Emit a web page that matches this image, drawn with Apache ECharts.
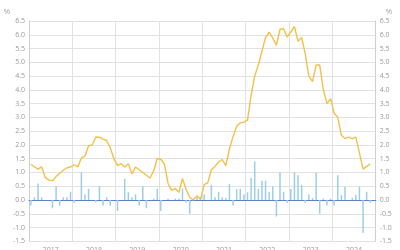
<!DOCTYPE html>
<html>
<head>
<meta charset="utf-8">
<script src="https://cdn.jsdelivr.net/npm/echarts@6/dist/echarts.min.js"></script>
<style>html,body{margin:0;padding:0;background:#fff;}#c{width:400px;height:250px;}</style>
</head>
<body>
<div id="c"></div>
<script>
var years = ['2017','2018','2019','2020','2021','2022','2023','2024'];
var yTicks = {min: -1.5, max: 6.5, step: 0.5};
var annualRate = [
  1.3, 1.2, 1.12, 1.2, 0.82, 0.72, 0.7, 0.85, 0.97, 1.08, 1.17, 1.2,
  1.28, 1.2, 1.52, 1.6, 1.97, 2.0, 2.29, 2.28, 2.21, 2.16, 1.9, 1.5,
  1.25, 1.32, 1.2, 1.32, 0.95, 1.2, 1.1, 1.0, 0.9, 0.8, 1.05, 1.5,
  1.48, 1.3, 0.6, 0.35, 0.42, 0.28, 0.78, 0.38, 0.1, 0.0, 0.15, 0.02,
  0.56, 0.62, 1.1, 1.22, 1.38, 1.47, 1.25, 1.85, 2.3, 2.68, 2.8, 2.83,
  2.9, 3.8, 4.5, 4.9, 5.4, 5.9, 6.1, 5.88, 5.62, 6.2, 6.22, 5.92,
  6.1, 6.3, 5.76, 5.9, 5.3, 4.5, 4.3, 4.9, 4.9, 4.0, 3.5, 3.68,
  3.15, 3.0, 2.35, 2.23, 2.28, 2.23, 2.28, 1.7, 1.12, 1.22, 1.31, null
];
var monthlyChange = [
  -0.2, 0.1, 0.6, 0.1, 0.0, 0.0, -0.3, 0.5, -0.2, 0.1, 0.1, 0.3,
  -0.1, 0.0, 1.0, 0.2, 0.4, 0.0, -0.08, 0.5, -0.2, 0.1, -0.2, 0.0,
  -0.4, 0.0, 0.77, 0.28, 0.1, 0.2, -0.2, 0.5, -0.3, 0.0, 0.05, 0.4,
  -0.4, 0.0, 0.05, 0.0, 0.05, 0.05, 0.42, -0.1, -0.5, 0.0, 0.1, 0.1,
  0.2, 0.0, 0.55, 0.1, 0.3, 0.1, 0.07, 0.58, -0.2, 0.4, 0.4, 0.2,
  0.28, 0.8, 1.4, 0.4, 0.7, 0.7, 0.3, 0.5, -0.6, 1.0, 0.3, -0.1,
  0.4, 1.0, 0.9, 0.55, -0.1, 0.2, 0.07, 1.0, -0.5, 0.05, -0.2, 0.05,
  -0.2, 0.9, 0.18, 0.48, 0.0, 0.08, 0.18, 0.48, -1.2, 0.3, -0.1, null
];
var months = [];
years.forEach(function (y) {
  for (var m = 1; m <= 12; m++) months.push(y + '-' + (m < 10 ? '0' + m : m));
});

var labelStyle = {color: '#9a9a9a', fontSize: 7, fontFamily: 'Open Sans'};
function fmt(v) { return v.toFixed(1); }

var chart = echarts.init(document.getElementById('c'), null, {renderer: 'canvas'});
chart.setOption({
  animation: false,
  grid: {left: 29, right: 24.3, top: 21, bottom: 8.7, containLabel: false, outerBoundsMode: 'none'},
  xAxis: [
    {
      type: 'category', data: months, position: 'bottom', boundaryGap: true,
      axisLine: {onZero: true, lineStyle: {color: '#5b82c8', width: 1.2}},
      axisTick: {show: false}, axisLabel: {show: false}, splitLine: {show: false}
    },
    {
      type: 'category', data: years, position: 'bottom', boundaryGap: true,
      axisLine: {show: false}, axisTick: {show: false},
      axisLabel: Object.assign({margin: 5}, labelStyle),
      splitLine: {show: true, lineStyle: {color: '#e2e2e2', width: 1}}
    }
  ],
  yAxis: [
    {
      type: 'value', min: yTicks.min, max: yTicks.max, interval: yTicks.step, position: 'left',
      name: '%', nameLocation: 'end', nameGap: 5,
      nameTextStyle: {color: '#9a9a9a', fontSize: 7, align: 'right', padding: [0, 19, 0, 0]},
      axisLine: {show: true, lineStyle: {color: '#cfcfcf'}},
      axisTick: {show: false},
      axisLabel: Object.assign({margin: 4, formatter: fmt}, labelStyle),
      splitLine: {show: true, lineStyle: {color: '#e2e2e2', width: 1}}
    },
    {
      type: 'value', min: yTicks.min, max: yTicks.max, interval: yTicks.step, position: 'right',
      name: '%', nameLocation: 'end', nameGap: 5,
      nameTextStyle: {color: '#9a9a9a', fontSize: 7, align: 'left', padding: [0, 0, 0, 10]},
      axisLine: {show: true, lineStyle: {color: '#cfcfcf'}},
      axisTick: {show: false},
      axisLabel: Object.assign({margin: 4, formatter: fmt}, labelStyle),
      splitLine: {show: false}
    }
  ],
  series: [
    {
      type: 'bar', name: 'Monthly change', data: monthlyChange, xAxisIndex: 0, yAxisIndex: 0,
      barWidth: 1.5, itemStyle: {color: '#9ccfe6'}, z: 2
    },
    {
      type: 'line', name: 'Annual rate', data: annualRate, xAxisIndex: 0, yAxisIndex: 0,
      showSymbol: false, symbol: 'none', lineStyle: {color: '#f2c14b', width: 1.4},
      itemStyle: {color: '#f2c14b'}, z: 3
    }
  ]
});
</script>
</body>
</html>
